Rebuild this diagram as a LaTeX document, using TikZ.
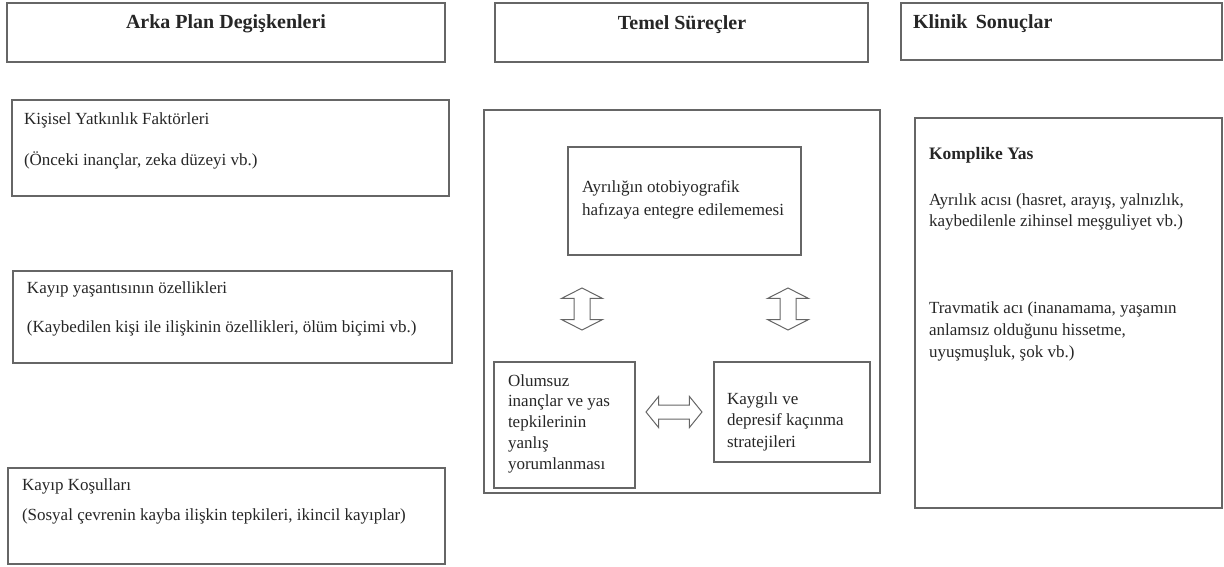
\documentclass[tikz,border=0pt]{standalone}
\usepackage{fontspec}
\setmainfont{Liberation Serif}
\usetikzlibrary{positioning,shapes.arrows}

\begin{document}
\begin{tikzpicture}[x=1pt,y=-1pt,
  kutu/.style={rectangle,draw=black!60,line width=1.4pt,inner sep=0,outer sep=0,anchor=north west},
  yazi/.style={inner sep=0,outer sep=0,anchor=base west,align=left,text=black!85,font=\fontsize{17}{21}\selectfont},
  baslik/.style={inner sep=0,outer sep=0,anchor=base,text=black!85,font=\fontsize{20}{22}\selectfont\bfseries},
  okbox/.style={double arrow,draw=black!60,line width=1pt,fill=white,inner xsep=0,outer sep=0}]
\useasboundingbox (0,0) rectangle (1224,567);
% ust basliklar
\draw (7,3) node[kutu,minimum width=438,minimum height=59] (h1) {};
\draw (495,3) node[kutu,minimum width=373,minimum height=59] (h2) {};
\draw (901,3) node[kutu,minimum width=321,minimum height=57] (h3) {};
\draw (226,29) node[baslik] (h1t) {Arka Plan Degişkenleri};
\draw (682,30) node[baslik] (h2t) {Temel Süreçler};
\draw (913,29) node[baslik,anchor=base west] (h3t) {Klinik\, Sonuçlar};
% arka plan
\draw (12,100) node[kutu,minimum width=437,minimum height=96] (k1) {};
\draw (13,271) node[kutu,minimum width=439,minimum height=92] (k2) {};
\draw (8,468) node[kutu,minimum width=437,minimum height=96] (k3) {};
\draw (24,125) node[yazi] (k1a) {Kişisel Yatkınlık Faktörleri};
\draw (24,166) node[yazi] (k1b) {(Önceki inançlar, zeka düzeyi vb.)};
\draw (27,293) node[yazi] (k2a) {Kayıp yaşantısının özellikleri};
\draw (27,332) node[yazi] (k2b) {(Kaybedilen kişi ile ilişkinin özellikleri, ölüm biçimi vb.)};
\draw (22,490) node[yazi] (k3a) {Kayıp Koşulları};
\draw (22,520) node[yazi] (k3b) {(Sosyal çevrenin kayba ilişkin tepkileri, ikincil kayıplar)};
% temel surecler
\draw (484,110) node[kutu,minimum width=396,minimum height=383] (tp) {};
\draw (568,147) node[kutu,minimum width=233,minimum height=108] (ay) {};
\draw (494,362) node[kutu,minimum width=141,minimum height=126] (ol) {};
\draw (714,362) node[kutu,minimum width=156,minimum height=100] (kd) {};
% cok satirli yazilar son satirin tabanindan
\draw (582,215) node[yazi,font=\fontsize{17}{23}\selectfont] (ayt) {Ayrılığın otobiyografik\\hafızaya entegre edilememesi};
\draw (508,469) node[yazi,font=\fontsize{17}{20.7}\selectfont] (olt) {Olumsuz\\inançlar ve yas\\tepkilerinin\\yanlış\\yorumlanması};
\draw (727,447) node[yazi,font=\fontsize{17}{21.5}\selectfont] (kdt) {Kaygılı ve\\depresif kaçınma\\stratejileri};
\draw (582,309) node[okbox,rotate=90,minimum height=42,inner ysep=7.5,double arrow head extend=12.5,double arrow tip angle=126] (o1) {};
\draw (788,309) node[okbox,rotate=90,minimum height=42,inner ysep=7.5,double arrow head extend=12.5,double arrow tip angle=126] (o2) {};
\draw (674,412) node[okbox,minimum height=56,inner ysep=6.5,double arrow head extend=8.5,double arrow tip angle=102] (o3) {};
% klinik sonuclar
\draw (915,118) node[kutu,minimum width=307,minimum height=390] (ky) {};
\draw (929,160) node[yazi,font=\fontsize{17.5}{20}\selectfont\bfseries] (kyt) {Komplike Yas};
\draw (929,226) node[yazi] (ky1) {Ayrılık acısı (hasret, arayış, yalnızlık,\\kaybedilenle zihinsel meşguliyet vb.)};
\draw (929,357) node[yazi,font=\fontsize{17}{22}\selectfont] (ky2) {Travmatik acı (inanamama, yaşamın\\anlamsız olduğunu hissetme,\\uyuşmuşluk, şok vb.)};
\end{tikzpicture}
\end{document}
